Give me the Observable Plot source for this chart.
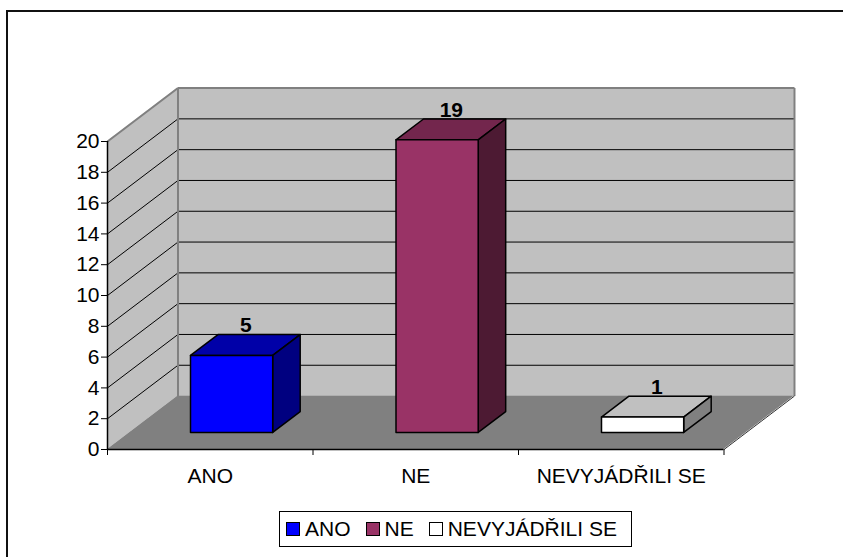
<!DOCTYPE html>
<html>
<head>
<meta charset="utf-8">
<script src="https://cdn.jsdelivr.net/npm/d3@7"></script>
<script src="https://cdn.jsdelivr.net/npm/@observablehq/plot@0.6"></script>
<style>
  html, body { margin: 0; padding: 0; background: #fff; overflow: hidden; }
  body { width: 843px; height: 557px; position: relative; font-family: "Liberation Sans", Arial, sans-serif; }
  #frame { position: absolute; left: 6px; top: 10px; width: 900px; height: 600px; border: 2px solid #111; box-sizing: border-box; pointer-events: none; }
  #chart { position: absolute; left: 0; top: 0; }
  #legend { position: absolute; left: 279px; top: 511px; width: 353px; height: 36px; box-sizing: border-box;
            border: 1px solid #000; display: flex; align-items: center; padding-left: 6px; font-size: 21px; color: #000; white-space: nowrap; }
  .item { display: flex; align-items: center; margin-right: 15px; }
  .sw { width: 12px; height: 12px; border: 1px solid #000; margin-right: 5px; }
</style>
</head>
<body>
<div id="chart"></div>
<div id="legend"></div>
<div id="frame"></div>
<script>
// ---- data ----
const categories = ["ANO", "NE", "NEVYJÁDŘILI SE"];
const values = [5, 19, 1];
const yTicks = [0, 2, 4, 6, 8, 10, 12, 14, 16, 18, 20];
const gridValues = [2, 4, 6, 8, 10, 12, 14, 16, 18];

// ---- styles ----
const frontColors = ["#0000FF", "#993366", "#FFFFFF"];
const topColors = ["#0000A8", "#73264D", "#C0C0C0"];
const sideColors = ["#000080", "#4D1A33", "#808080"];

// 3D oblique projection (in data units of the x and y scales)
const DX = 0.343, DY = 3.47;     // full depth of the floor
const Z0 = 0.31, Z1 = 0.70;      // bar depth range
const PAD = 0.3, W = 0.4;        // bar placement within category

const quad = (id, pts, fill, stroke, sw) => [
  {id, x1: pts[0][0], y1: pts[0][1], x2: pts[3][0], y2: pts[3][1], fill, stroke, sw},
  {id, x1: pts[1][0], y1: pts[1][1], x2: pts[2][0], y2: pts[2][1], fill, stroke, sw}
];

const walls = [
  ...quad("back", [[DX, DY], [3 + DX, DY], [3 + DX, 20 + DY], [DX, 20 + DY]], "#C0C0C0", "#808080", 2),
  ...quad("side", [[0, 0], [DX, DY], [DX, 20 + DY], [0, 20]], "#C0C0C0", "#808080", 2),
  ...quad("floor", [[0, 0], [3, 0], [3 + DX, DY], [DX, DY]], "#808080", "none", 0)
];

const faces = [];
values.forEach((v, i) => {
  const x0 = i + PAD + Z0 * DX, x1 = x0 + W;
  const yb = Z0 * DY, yt = v + Z0 * DY;
  const ox = (Z1 - Z0) * DX, oy = (Z1 - Z0) * DY;
  faces.push(...quad("top" + i, [[x0, yt], [x1, yt], [x1 + ox, yt + oy], [x0 + ox, yt + oy]], topColors[i], "#000", 1.5));
  faces.push(...quad("side" + i, [[x1, yb], [x1 + ox, yb + oy], [x1 + ox, yt + oy], [x1, yt]], sideColors[i], "#000", 1.5));
  faces.push(...quad("front" + i, [[x0, yb], [x1, yb], [x1, yt], [x0, yt]], frontColors[i], "#000", 1.5));
});

const labels = values.map((v, i) => ({
  x: i + PAD + W / 2 + ((Z0 + Z1) / 2) * DX,
  y: v + Z1 * DY,
  t: String(v)
}));

const areaOpts = {x1: "x1", y1: "y1", x2: "x2", y2: "y2", z: "id", fill: "fill", stroke: "stroke", strokeWidth: "sw", strokeLinejoin: "round"};

const plot = Plot.plot({
  width: 843,
  height: 500,
  marginLeft: 107,
  marginRight: 119.5,
  marginTop: 141,
  marginBottom: 51,
  x: {domain: [0, 3], axis: null},
  y: {domain: [0, 20], axis: null},
  style: {fontFamily: "'Liberation Sans', Arial, sans-serif", fontSize: "21px", color: "#000", background: "transparent", overflow: "visible"},
  marks: [
    Plot.area(walls.filter(d => d.id !== "floor"), {...areaOpts, stroke: null}),
    Plot.area(walls.filter(d => d.id === "floor"), {...areaOpts, stroke: null}),
    Plot.link(gridValues, {x1: DX, x2: 3 + DX, y1: d => d + DY, y2: d => d + DY, stroke: "#000", strokeWidth: 1}),
    Plot.link(gridValues, {x1: 0, x2: DX, y1: d => d, y2: d => d + DY, stroke: "#000", strokeWidth: 1}),
    // wall borders
    Plot.link([0], {x1: DX, x2: 3 + DX, y1: 20 + DY, y2: 20 + DY, stroke: "#808080", strokeWidth: 2}),
    Plot.link([0], {x1: 3 + DX, x2: 3 + DX, y1: DY, y2: 20 + DY, stroke: "#808080", strokeWidth: 2}),
    Plot.link([0], {x1: DX, x2: DX, y1: DY, y2: 20 + DY, stroke: "#808080", strokeWidth: 2}),
    Plot.link([0], {x1: 0, x2: DX, y1: 20, y2: 20 + DY, stroke: "#808080", strokeWidth: 2}),
    Plot.link([0], {x1: 3, x2: 3 + DX, y1: 0, y2: DY, stroke: "#333", strokeWidth: 1}),
    // bars
    Plot.area(faces, areaOpts),
    // axes
    Plot.ruleX([0], {stroke: "#000", strokeWidth: 1.5}),
    Plot.ruleY([0], {stroke: "#000", strokeWidth: 1.5}),
    Plot.axisY(yTicks, {tickSize: 6, tickPadding: 2, label: null, fontSize: 21, stroke: "#000"}),
    Plot.axisX([0, 1, 2, 3], {tickSize: 6, tickFormat: () => "", label: null, stroke: "#000"}),
    Plot.text(categories, {x: (d, i) => i + 0.5, y: 0, dy: 27, text: d => d, fontSize: 21, fill: "#000"}),
    Plot.text(labels, {x: "x", y: "y", text: "t", dy: -9.5, fontSize: 21, fontWeight: "bold", fill: "#000"})
  ]
});
document.getElementById("chart").appendChild(plot);

// legend
const legend = document.getElementById("legend");
categories.forEach((c, i) => {
  const it = document.createElement("div");
  it.className = "item";
  const sw = document.createElement("div");
  sw.className = "sw";
  sw.style.background = frontColors[i];
  const t = document.createElement("span");
  t.textContent = c;
  it.appendChild(sw);
  it.appendChild(t);
  legend.appendChild(it);
});
</script>
</body>
</html>
